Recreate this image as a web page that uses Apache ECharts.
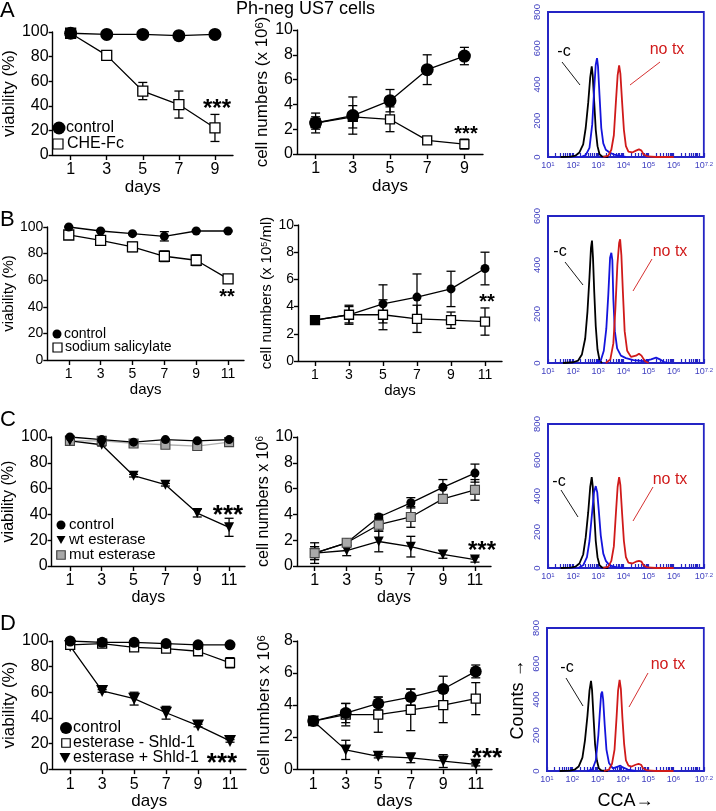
<!DOCTYPE html>
<html><head><meta charset="utf-8">
<script src="https://cdn.jsdelivr.net/npm/echarts@6/dist/echarts.min.js"></script>
<style>html,body{margin:0;padding:0;background:#fff}#main{width:716px;height:811px}</style>
</head><body><div id="main"></div>
<script>
// ================= DATA =================
const daysA = [1, 3, 5, 7, 9];
const daysBCD = [1, 3, 5, 7, 9, 11];
const dayTicksA = [1, 3, 5, 7, 9];
const dayTicksBCD = [1, 3, 5, 7, 9, 11];

// Row A (CHE-Fc)
const aViabCtrl = [99, 98, 98, 97, 98];
const aViabCtrlErr = [0.5, 0.5, 0.5, 0.5, 0.5];
const aViabChe = [99, 81, 52, 41, 22];
const aViabCheErr = [1, 2, 7, 11, 11];
const aCellCtrl = [2.5, 3.1, 4.3, 6.8, 7.9];
const aCellCtrlErr = [0.8, 1.5, 0.9, 1.2, 0.7];
const aCellChe = [2.5, 3.0, 2.8, 1.1, 0.8];
const aCellCheErr = [0.5, 0.9, 1.0, 0.1, 0.4];

// Row B (sodium salicylate)
const bViabCtrl = [100, 97, 95, 93, 97, 97];
const bViabCtrlErr = [0.5, 0.5, 0.5, 3.5, 0.5, 0.5];
const bViabSal = [94, 90, 85, 78, 75, 61];
const bViabSalErr = [1, 1.5, 3.5, 4, 4, 2];
const bCellCtrl = [3.0, 3.4, 4.2, 4.7, 5.3, 6.8];
const bCellCtrlErr = [0.1, 0.7, 1.4, 1.7, 1.3, 1.2];
const bCellSal = [3.0, 3.4, 3.4, 3.1, 3.0, 2.9];
const bCellSalErr = [0.1, 0.6, 1.1, 1.0, 0.6, 1.0];

// Row C (wt / mut esterase)
const cViabCtrl = [100, 98, 96, 98, 97, 98];
const cViabCtrlErr = [0.5, 0.5, 0.5, 0.5, 0.5, 0.5];
const cViabWt = [97, 94, 70, 63, 41, 30];
const cViabWtErr = [1, 1, 1, 1, 3, 7];
const cViabMut = [97, 97, 95, 94, 93, 96];
const cViabMutErr = [1, 1, 1, 1, 1, 1];
const cCellCtrl = [1.0, 1.8, 3.8, 4.9, 6.1, 7.2];
const cCellCtrlErr = [0.8, 0.2, 0.2, 0.4, 0.6, 0.7];
const cCellWt = [1.0, 1.2, 1.9, 1.5, 0.9, 0.5];
const cCellWtErr = [0.5, 0.4, 0.8, 0.8, 0.3, 0.2];
const cCellMut = [1.0, 1.8, 3.2, 3.8, 5.2, 5.9];
const cCellMutErr = [0.5, 0.2, 0.5, 0.8, 0.3, 0.8];

// Row D (esterase +/- Shld-1)
const dViabCtrl = [100, 99, 99, 98, 97, 97];
const dViabCtrlErr = [0.5, 0.5, 0.5, 0.5, 0.5, 0.5];
const dViabMinus = [97, 98, 95, 94, 92, 83];
const dViabMinusErr = [1, 1, 1, 1, 1.5, 4];
const dViabPlus = [96, 61, 55, 44, 34, 22];
const dViabPlusErr = [1, 1, 5, 5, 1, 1];
const dCellCtrl = [3.0, 3.5, 4.1, 4.5, 5.0, 6.1];
const dCellCtrlErr = [0.1, 0.6, 0.4, 0.5, 0.8, 0.4];
const dCellMinus = [3.0, 3.4, 3.4, 3.7, 4.0, 4.4];
const dCellMinusErr = [0.1, 0.7, 1.1, 1.3, 1.1, 1.0];
const dCellPlus = [3.0, 1.2, 0.8, 0.7, 0.5, 0.3];
const dCellPlusErr = [0.1, 0.6, 0.1, 0.3, 0.4, 0.1];

// Flow histograms: [log10(CCA), counts]
const histTicksLabels = [1, 2, 3, 4, 5, 6, 7.2];
const aHistNeg = [[1.5,0],[1.9,2],[2.1,8],[2.25,25],[2.4,70],[2.5,160],[2.6,300],[2.68,440],[2.74,500],[2.78,450],[2.84,300],[2.9,150],[2.97,60],[3.05,15],[3.15,3],[3.4,0]];
const aHistTx = [[2.3,0],[2.5,10],[2.65,50],[2.76,180],[2.84,380],[2.9,510],[2.95,545],[2.99,500],[3.05,340],[3.12,160],[3.2,75],[3.3,40],[3.45,25],[3.6,15],[3.8,8],[4.1,0]];
const aHistNoTx = [[3.2,0],[3.4,8],[3.52,40],[3.62,120],[3.7,300],[3.77,450],[3.83,505],[3.88,460],[3.95,300],[4.02,150],[4.1,60],[4.2,30],[4.35,25],[4.5,35],[4.62,42],[4.72,35],[4.8,15],[4.95,3],[5.3,0],[6.0,0]];
const bHistNeg = [[1.6,0],[2.0,3],[2.2,10],[2.35,35],[2.48,100],[2.57,210],[2.65,350],[2.71,470],[2.75,500],[2.79,430],[2.84,290],[2.9,150],[2.97,55],[3.05,12],[3.15,0]];
const bHistTx = [[2.9,0],[3.1,10],[3.22,50],[3.32,140],[3.4,280],[3.47,430],[3.52,450],[3.56,420],[3.6,260],[3.66,130],[3.75,60],[3.9,30],[4.1,20],[4.4,12],[4.8,8],[5.1,15],[5.3,22],[5.45,15],[5.6,5],[5.8,0]];
const bHistNoTx = [[3.3,0],[3.48,15],[3.6,80],[3.68,220],[3.76,400],[3.83,490],[3.87,505],[3.92,440],[3.98,290],[4.05,130],[4.15,50],[4.3,25],[4.5,30],[4.62,38],[4.72,30],[4.85,8],[5.0,0]];
const cHistNeg = [[1.5,0],[1.9,2],[2.1,8],[2.25,25],[2.4,75],[2.5,170],[2.6,310],[2.68,450],[2.74,505],[2.78,455],[2.84,300],[2.9,150],[2.97,60],[3.05,15],[3.15,3],[3.4,0]];
const cHistTx = [[2.2,0],[2.4,15],[2.55,60],[2.65,150],[2.75,300],[2.83,420],[2.9,455],[2.96,420],[3.02,320],[3.1,180],[3.2,80],[3.3,40],[3.45,15],[3.7,5],[4.0,0]];
const cHistNoTx = [[3.2,0],[3.4,8],[3.52,40],[3.62,120],[3.7,300],[3.77,450],[3.83,505],[3.88,460],[3.95,300],[4.02,150],[4.1,60],[4.2,30],[4.35,25],[4.5,35],[4.62,40],[4.72,35],[4.8,15],[4.95,3],[5.3,0],[6.0,0]];
const dHistNeg = [[1.5,0],[1.9,2],[2.1,8],[2.25,25],[2.4,75],[2.5,170],[2.6,310],[2.68,450],[2.74,504],[2.78,455],[2.84,300],[2.9,150],[2.97,60],[3.05,15],[3.15,3],[3.4,0]];
const dHistTx = [[2.6,0],[2.8,10],[2.93,60],[3.03,200],[3.09,330],[3.14,430],[3.18,444],[3.22,400],[3.28,260],[3.35,120],[3.45,45],[3.6,15],[3.8,25],[3.9,30],[4.0,20],[4.2,8],[4.5,0]];
const dHistNoTx = [[3.25,0],[3.45,8],[3.57,40],[3.67,120],[3.75,300],[3.81,450],[3.87,510],[3.92,460],[3.98,300],[4.05,150],[4.12,60],[4.22,30],[4.35,25],[4.5,35],[4.62,40],[4.72,35],[4.8,15],[4.95,3],[5.3,0],[6.0,0]];

// ================= BUILD =================
const FONT = '"Liberation Sans", Arial, Helvetica, sans-serif';
const BLUE = '#2424c4';
const BLUE_TXT = '#4040c0';
const HBLUE = '#1414dc';
const RED = '#d01a1a';

const grids = [], xAxis = [], yAxis = [], series = [];

function growthPanel(p) {
  const gi = grids.length;
  grids.push({ left: p.l, top: p.t, width: p.w, height: p.h });
  xAxis.push({
    type: 'value', gridIndex: gi, min: p.xmin, max: p.xmax,
    name: 'days', nameLocation: 'middle', nameGap: p.xng,
    nameTextStyle: { fontSize: p.nf, fontFamily: FONT, color: '#000' },
    axisLine: { onZero: false, lineStyle: { color: '#000', width: 1.4 } },
    axisTick: { customValues: p.ticks, length: 5, lineStyle: { color: '#000', width: 1.4 } },
    axisLabel: { customValues: p.ticks, fontSize: p.tf, fontFamily: FONT, color: '#000', margin: 7 },
    splitLine: { show: false }
  });
  yAxis.push({
    type: 'value', gridIndex: gi, min: 0, max: p.ymax, interval: p.yint,
    name: p.yname, nameLocation: 'middle', nameGap: p.yng,
    nameTextStyle: { fontSize: p.nf, fontFamily: FONT, color: '#000',
      rich: { s: { fontSize: Math.round(p.nf * 0.62), fontFamily: FONT, color: '#000', verticalAlign: 'top' } } },
    axisLine: { show: true, onZero: false, lineStyle: { color: '#000', width: 1.4 } },
    axisTick: { show: true, length: 4, lineStyle: { color: '#000', width: 1.4 } },
    axisLabel: { fontSize: p.tf, fontFamily: FONT, color: '#000', margin: 4 },
    splitLine: { show: false }
  });
  return gi;
}

const minorLogTicks = [];
for (let n = 1; n <= 7; n++) {
  for (let k = 1; k <= 9; k++) {
    const v = n + Math.log10(k);
    if (v <= 7.2 + 1e-9) minorLogTicks.push(v);
  }
}
minorLogTicks.push(7.2);

function histPanel(p) {
  const gi = grids.length;
  grids.push({ left: p.l, top: p.t, width: p.w, height: p.h, show: true, borderColor: BLUE, borderWidth: 1.8 });
  xAxis.push({
    type: 'value', gridIndex: gi, min: 1, max: 7.2,
    name: p.xname || '', nameLocation: 'middle', nameGap: 21,
    nameTextStyle: { fontSize: 18, fontFamily: FONT, color: '#000' },
    axisLine: { onZero: false, lineStyle: { color: BLUE, width: 1.8 } },
    axisTick: { inside: true, customValues: minorLogTicks, length: 4, lineStyle: { color: BLUE, width: 1.2 } },
    axisLabel: {
      customValues: histTicksLabels, margin: 4, color: BLUE_TXT,
      formatter: v => '{b|10}{s|' + (Math.round(v * 10) / 10) + '}',
      rich: { b: { fontSize: 9, fontFamily: FONT, color: BLUE_TXT }, s: { fontSize: 6, fontFamily: FONT, color: BLUE_TXT, verticalAlign: 'top' } }
    },
    splitLine: { show: false }
  });
  yAxis.push({
    type: 'value', gridIndex: gi, min: 0, max: p.ymax, interval: 200,
    name: p.yname || '', nameLocation: 'middle', nameGap: 20,
    nameTextStyle: { fontSize: 18, fontFamily: FONT, color: '#000' },
    axisLine: { show: true, onZero: false, lineStyle: { color: BLUE, width: 1.8 } },
    axisTick: { show: false },
    axisLabel: { rotate: 90, fontSize: 9.5, fontFamily: FONT, color: BLUE_TXT, margin: 6 },
    splitLine: { show: false }
  });
  const curves = [[p.neg, '#000'], [p.tx, HBLUE], [p.notx, RED]];
  curves.forEach(([d, c]) => series.push({
    type: 'line', xAxisIndex: gi, yAxisIndex: gi, data: d, showSymbol: false, symbol: 'none',
    lineStyle: { color: c, width: 1.8 }, z: 3, silent: true
  }));
  return gi;
}

function addSeries(gi, days, vals, errs, st) {
  series.push({
    type: 'custom', xAxisIndex: gi, yAxisIndex: gi, z: 2, silent: true,
    data: days.map((d, k) => [d, vals[k] - errs[k], vals[k] + errs[k]]),
    encode: { x: 0, y: [1, 2] },
    renderItem: (params, api) => {
      const lo = api.coord([api.value(0), api.value(1)]);
      const hi = api.coord([api.value(0), api.value(2)]);
      const w = st.cap || 4.5;
      const s = { stroke: '#000', lineWidth: 1.3 };
      return { type: 'group', children: [
        { type: 'line', shape: { x1: lo[0], y1: lo[1], x2: hi[0], y2: hi[1] }, style: s },
        { type: 'line', shape: { x1: lo[0] - w, y1: lo[1], x2: lo[0] + w, y2: lo[1] }, style: s },
        { type: 'line', shape: { x1: hi[0] - w, y1: hi[1], x2: hi[0] + w, y2: hi[1] }, style: s }
      ] };
    }
  });
  series.push({
    type: 'line', xAxisIndex: gi, yAxisIndex: gi, z: 3, silent: true,
    data: days.map((d, k) => {
      const item = { value: [d, vals[k]] };
      if (st.firstFill && k === 0) item.itemStyle = { color: st.firstFill };
      return item;
    }),
    symbol: st.symbol, symbolSize: st.size, symbolRotate: st.rot || 0, showAllSymbol: true,
    lineStyle: { color: st.line || '#000', width: 1.3 },
    itemStyle: { color: st.fill, borderColor: st.border || '#000', borderWidth: st.bw == null ? 1.2 : st.bw, opacity: 1 }
  });
}

const CIRC = (size) => ({ symbol: 'circle', size, fill: '#000', bw: 0 });
const SQ = (size) => ({ symbol: 'rect', size, fill: '#fff', bw: 1.3 });
const GSQ = (size) => ({ symbol: 'rect', size, fill: '#a9a9a9', border: '#444', bw: 1.1 });
const TRI = (size) => ({ symbol: 'triangle', size, fill: '#000', bw: 0, rot: 180 });

// ---- Row A ----
let g;
g = growthPanel({ l: 48, t: 32, w: 185, h: 123, xmin: 0, xmax: 10, ticks: dayTicksA, ymax: 100, yint: 20, tf: 16, nf: 17, yname: 'viability (%)', yng: 30, xng: 19 });
addSeries(g, daysA, aViabChe, aViabCheErr, SQ(10));
addSeries(g, daysA, aViabCtrl, aViabCtrlErr, CIRC(13));
g = growthPanel({ l: 297, t: 30, w: 186, h: 124, xmin: 0, xmax: 10, ticks: dayTicksA, ymax: 10, yint: 2, tf: 16, nf: 17, yname: 'cell numbers (x 10{s|6})', yng: 20, xng: 20 });
addSeries(g, daysA, aCellChe, aCellCheErr, SQ(9));
addSeries(g, daysA, aCellCtrl, aCellCtrlErr, CIRC(13));
histPanel({ l: 548, t: 12, w: 160, h: 145, ymax: 800, neg: aHistNeg, tx: aHistTx, notx: aHistNoTx });

// ---- Row B ----
g = growthPanel({ l: 45, t: 227, w: 199, h: 133, xmin: -0.35, xmax: 12, ticks: dayTicksBCD, ymax: 100, yint: 20, tf: 14, nf: 15, yname: 'viability (%)', yng: 31, xng: 22 });
addSeries(g, daysBCD, bViabSal, bViabSalErr, SQ(10));
addSeries(g, daysBCD, bViabCtrl, bViabCtrlErr, CIRC(9));
g = growthPanel({ l: 298, t: 225, w: 204, h: 136, xmin: 0, xmax: 12, ticks: dayTicksBCD, ymax: 10, yint: 2, tf: 14, nf: 15, yname: 'cell numbers (x 10{s|5}/ml)', yng: 22, xng: 20 });
addSeries(g, daysBCD, bCellCtrl, bCellCtrlErr, CIRC(9));
addSeries(g, daysBCD, bCellSal, bCellSalErr, Object.assign(SQ(9), { firstFill: '#000' }));
histPanel({ l: 548, t: 216, w: 160, h: 147, ymax: 600, neg: bHistNeg, tx: bHistTx, notx: bHistNoTx });

// ---- Row C ----
g = growthPanel({ l: 48, t: 437, w: 197, h: 129, xmin: -0.15, xmax: 12, ticks: dayTicksBCD, ymax: 100, yint: 20, tf: 16, nf: 16, yname: 'viability (%)', yng: 32, xng: 21 });
addSeries(g, daysBCD, cViabMut, cViabMutErr, Object.assign(GSQ(9), { line: '#b0b0b0' }));
addSeries(g, daysBCD, cViabWt, cViabWtErr, TRI(10));
addSeries(g, daysBCD, cViabCtrl, cViabCtrlErr, CIRC(9));
g = growthPanel({ l: 297, t: 437, w: 194, h: 129, xmin: -0.1, xmax: 12, ticks: dayTicksBCD, ymax: 10, yint: 2, tf: 16, nf: 16, yname: 'cell numbers x 10{s|6}', yng: 23, xng: 21 });
addSeries(g, daysBCD, cCellWt, cCellWtErr, TRI(10));
addSeries(g, daysBCD, cCellCtrl, cCellCtrlErr, CIRC(9));
addSeries(g, daysBCD, cCellMut, cCellMutErr, GSQ(9));
histPanel({ l: 548, t: 424, w: 160, h: 144, ymax: 800, neg: cHistNeg, tx: cHistTx, notx: cHistNoTx });

// ---- Row D ----
g = growthPanel({ l: 48, t: 641, w: 198, h: 131, xmin: -0.1, xmax: 12, ticks: dayTicksBCD, ymax: 100, yint: 20, tf: 16, nf: 17, yname: 'viability (%)', yng: 32, xng: 19 });
addSeries(g, daysBCD, dViabPlus, dViabPlusErr, TRI(12));
addSeries(g, daysBCD, dViabMinus, dViabMinusErr, SQ(9));
addSeries(g, daysBCD, dViabCtrl, dViabCtrlErr, CIRC(11));
g = growthPanel({ l: 297, t: 641, w: 195, h: 131, xmin: 0, xmax: 12, ticks: dayTicksBCD, ymax: 8, yint: 2, tf: 16, nf: 17, yname: 'cell numbers x 10{s|6}', yng: 24, xng: 22 });
addSeries(g, daysBCD, dCellPlus, dCellPlusErr, TRI(11));
addSeries(g, daysBCD, dCellMinus, dCellMinusErr, SQ(9));
addSeries(g, daysBCD, dCellCtrl, dCellCtrlErr, CIRC(12));
histPanel({ l: 547, t: 628, w: 161, h: 146, ymax: 800, neg: dHistNeg, tx: dHistTx, notx: dHistNoTx, yname: 'Counts \u2192', xname: 'CCA\u2192' });

// ================= ANNOTATIONS (graphic) =================
const graphic = [];
function txt(x, y, text, fs, opt) {
  opt = opt || {};
  graphic.push({ type: 'text', x, y, silent: true, z: 10,
    style: { text, fontSize: fs, fontFamily: FONT, fontWeight: opt.bold ? 'bold' : 'normal', fill: opt.color || '#000',
      align: opt.align || 'left', verticalAlign: 'middle' } });
}
function ln(x1, y1, x2, y2, color) {
  graphic.push({ type: 'line', silent: true, z: 10, shape: { x1, y1, x2, y2 }, style: { stroke: color, lineWidth: 0.9 } });
}
function legCircle(cx, cy, r) { graphic.push({ type: 'circle', silent: true, z: 10, shape: { cx, cy, r }, style: { fill: '#000' } }); }
function legRect(cx, cy, s, fill, stroke) { graphic.push({ type: 'rect', silent: true, z: 10, shape: { x: cx - s / 2, y: cy - s / 2, width: s, height: s }, style: { fill, stroke: stroke || '#000', lineWidth: 1.2 } }); }
function legTri(cx, cy, s) { graphic.push({ type: 'polygon', silent: true, z: 10, shape: { points: [[cx - s / 2, cy - s * 0.45], [cx + s / 2, cy - s * 0.45], [cx, cy + s * 0.45]] }, style: { fill: '#000' } }); }
function stars(cx, cy, text, fs) { txt(cx, cy + fs * 0.23, text, fs, { align: 'center', bold: true }); }

// panel letters and title
txt(0, 11, 'A', 22); txt(0, 220, 'B', 22); txt(0, 420, 'C', 22); txt(0, 624, 'D', 22);
txt(236, 9, 'Ph-neg US7 cells', 18);

// legends
legCircle(59, 128, 6.5); txt(66, 128, 'control', 16);
legRect(58, 144, 10, '#fff'); txt(67, 144, 'CHE-Fc', 16);
legCircle(57, 334, 4.5); txt(64, 334, 'control', 14);
legRect(57.5, 347.5, 9, '#fff'); txt(65, 347.5, 'sodium salicylate', 14);
legCircle(61, 525, 4.5); txt(69, 525, 'control', 15);
legTri(61, 540, 9); txt(69, 540, 'wt esterase', 15);
legRect(61, 555, 8.5, '#a9a9a9', '#444'); txt(69, 555, 'mut esterase', 15);
legCircle(66, 728, 6); txt(73, 728, 'control', 16);
legRect(66, 743, 8.5, '#fff'); txt(73, 743, 'esterase - Shld-1', 16);
legTri(65, 758, 11); txt(73, 758, 'esterase + Shld-1', 16);

// significance stars
stars(217, 104, '***', 24);
stars(466, 130, '***', 20);
stars(227, 293, '**', 20);
stars(487, 298, '**', 20);
stars(228, 510, '***', 26);
stars(482, 546, '***', 24);
stars(222, 758, '***', 26);
stars(487, 753, '***', 26);

// histogram labels
const annos = [
  { c: [564, 52], cl: [562, 62, 580, 85], n: [667, 50], nl: [660, 62, 630, 85] },
  { c: [560, 252], cl: [565, 262, 583, 285], n: [670, 252], nl: [652, 259, 633, 291] },
  { c: [559, 482], cl: [561, 490, 578, 517], n: [670, 480], nl: [653, 487, 633, 521] },
  { c: [567, 668], cl: [566, 678, 583, 706], n: [668, 665], nl: [648, 673, 629, 707] }
];
annos.forEach(a => {
  txt(a.c[0], a.c[1], '-c', 16, { align: 'center' });
  ln(a.cl[0], a.cl[1], a.cl[2], a.cl[3], '#000');
  txt(a.n[0], a.n[1], 'no tx', 16, { align: 'center', color: RED });
  ln(a.nl[0], a.nl[1], a.nl[2], a.nl[3], RED);
});

const chart = echarts.init(document.getElementById('main'), null, { renderer: 'canvas' });
chart.setOption({
  animation: false,
  backgroundColor: '#fff',
  textStyle: { fontFamily: FONT },
  grid: grids, xAxis, yAxis, series, graphic
});
</script>
</body></html>
